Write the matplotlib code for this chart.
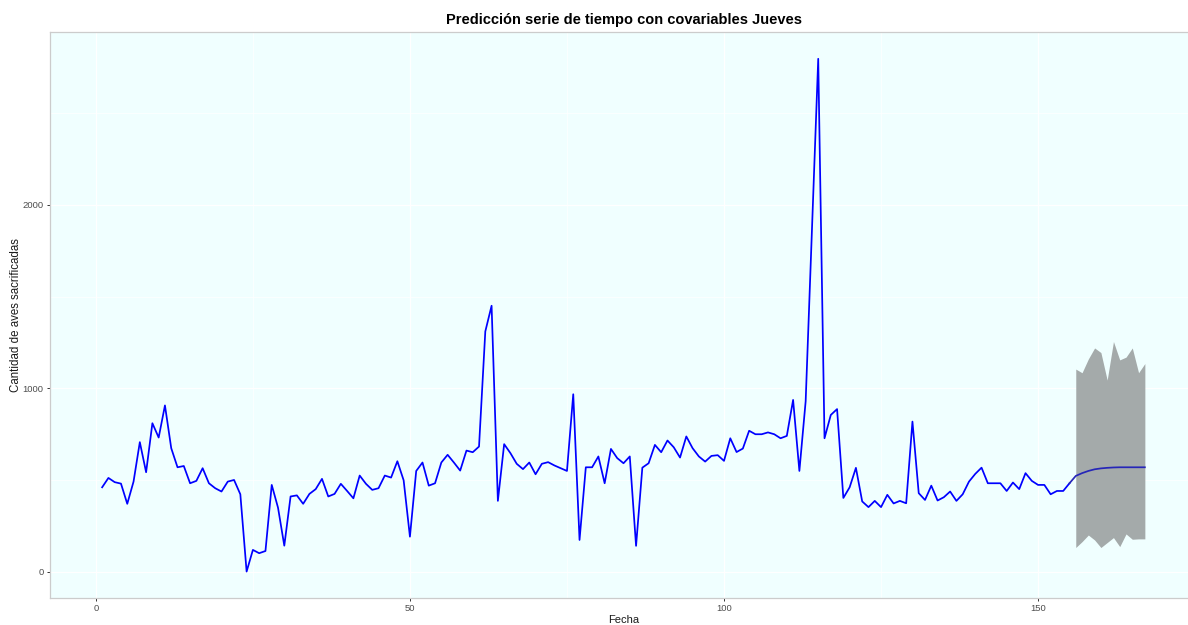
import numpy as np
import matplotlib
matplotlib.use('Agg')
import matplotlib.pyplot as plt
from matplotlib.ticker import MultipleLocator

plt.rcParams['font.family'] = ['Liberation Sans', 'DejaVu Sans']

# serie observada (semanas 1..155)
aves = [461, 512, 489, 481, 371, 492, 707, 543, 810, 732,
        907, 674, 570, 577, 483, 496, 565, 483, 456, 438,
        492, 501, 423, 2, 120, 102, 114, 474, 350, 143,
        411, 417, 371, 425, 451, 507, 411, 425, 480, 441,
        401, 525, 480, 447, 456, 525, 514, 603, 499, 192,
        550, 596, 470, 483, 596, 638, 596, 552, 661, 652,
        683, 1310, 1450, 387, 696, 647, 589, 560, 596, 532,
        589, 598, 580, 565, 550, 968, 174, 570, 570, 629,
        483, 670, 620, 592, 629, 142, 568, 592, 692, 652,
        716, 679, 623, 738, 674, 629, 601, 632, 636, 605,
        728, 653, 672, 769, 750, 750, 760, 750, 728, 741,
        937, 550, 930, 1860, 2795, 728, 855, 887, 403, 461,
        567, 384, 353, 387, 353, 420, 373, 387, 374, 819,
        429, 392, 470, 389, 407, 438, 387, 423, 492, 534,
        568, 483, 483, 483, 441, 487, 451, 538, 496, 474,
        474, 423, 441, 441, 483]

# pronostico (semanas 156..167)
pred_media = [523, 538, 550, 559, 564, 567, 569, 570, 570, 570, 570, 570]
pred_sup = [1105, 1085, 1160, 1220, 1195, 1045, 1255, 1155, 1170, 1220, 1085, 1135]
pred_inf = [133, 165, 201, 174, 133, 160, 187, 138, 207, 178, 180, 180]

x_hist = np.arange(1, len(aves) + 1)
x_pred = np.arange(len(aves) + 1, len(aves) + 1 + len(pred_media))

fig = plt.figure(figsize=(11.88, 6.25), dpi=100)
ax = fig.add_axes([50 / 1188, 27 / 625, 1147 / 1188, 566 / 625])
ax.set_facecolor('#F0FFFF')

ax.fill_between(x_pred, pred_inf, pred_sup, color='#A4AAAA', lw=0, zorder=2)
ax.plot(x_hist, aves, color='#0000FF', lw=1.25, zorder=3)
ax.plot(np.r_[x_hist[-1], x_pred], np.r_[aves[-1], pred_media],
        color='#2626B8', lw=1.25, zorder=3)

ax.set_xlim(-7.3, 175.3)
ax.set_ylim(-142, 2941)
ax.xaxis.set_major_locator(MultipleLocator(50))
ax.xaxis.set_minor_locator(MultipleLocator(25))
ax.yaxis.set_major_locator(MultipleLocator(1000))
ax.yaxis.set_minor_locator(MultipleLocator(500))
ax.grid(which='major', color='white', lw=0.9, zorder=0)
ax.grid(which='minor', color='white', lw=0.5, zorder=0)
ax.set_axisbelow(True)

for s in ax.spines.values():
    s.set_color('#CCCCCC')
    s.set_linewidth(0.9)

ax.tick_params(which='major', length=2.5, width=0.7, color='#333333',
               labelsize=6.8, labelcolor='#4D4D4D', pad=2)
ax.tick_params(which='minor', length=0)

ax.set_title('Predicción serie de tiempo con covariables Jueves',
             fontsize=10.5, fontweight='bold', pad=6)
ax.set_xlabel('Fecha', fontsize=8, color='#1A1A1A', labelpad=1.5)
ax.set_ylabel('Cantidad de aves sacrificadas', fontsize=8.3, color='#1A1A1A', labelpad=0.5)

fig.savefig('out.png', dpi=100)
